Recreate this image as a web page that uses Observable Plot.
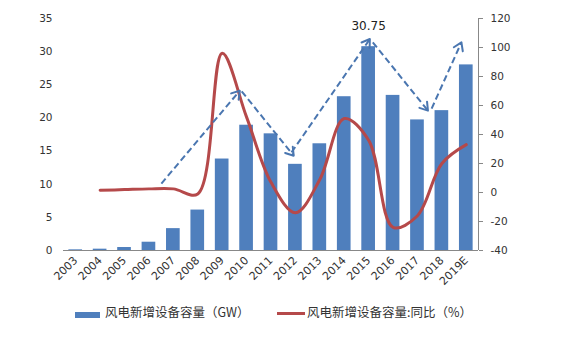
<!DOCTYPE html>
<html><head><meta charset="utf-8">
<script src="https://cdn.jsdelivr.net/npm/d3@7"></script>
<script src="https://cdn.jsdelivr.net/npm/@observablehq/plot@0.6"></script>
<style>
body{margin:0;background:#fff;font-family:"DejaVu Sans",sans-serif;}
#wrap{position:relative;width:563px;height:351px;overflow:hidden;}
.lg{position:absolute;font-family:"Noto Sans CJK SC","DejaVu Sans",sans-serif;font-size:12.5px;color:#333;line-height:1;white-space:nowrap;}
</style></head>
<body><div id="wrap"><div id="chart"></div>
<div class="lg" style="left:75px;top:312px;width:25px;height:6px;background:#4f7fbd"></div>
<div class="lg" style="left:105px;top:306px;">风电新增设备容量（GW）</div>
<div class="lg" style="left:277px;top:312px;width:28px;height:3px;background:#b5494a"></div>
<div class="lg" style="left:307px;top:306px;">风电新增设备容量:同比（%）</div>
</div>
<script>
const years = ["2003","2004","2005","2006","2007","2008","2009","2010","2011","2012","2013","2014","2015","2016","2017","2018","2019E"];
const capacity = [0.1,0.2,0.45,1.25,3.3,6.1,13.8,18.9,17.6,13.0,16.1,23.2,30.75,23.4,19.7,21.1,28.0];
const yoyYears = ["2004","2005","2006","2007","2008","2009","2010","2011","2012","2013","2014","2015","2016","2017","2018","2019E"];
const yoy = [1.5,2,2.5,2.5,-1,96,52,7,-14,9,51,36,-24,-16,20,33];
const leftTicks = [0,5,10,15,20,25,30,35];
const rightTicks = [-40,-20,0,20,40,60,80,100,120];
// trend arrows (x in year index, y in GW)
const arrowX1 = [3.51,6.8,8.84,12.17,14.58];
const arrowY1 = [10.1,24.0,14.8,31.4,21.4];
const arrowX2 = [6.72,8.93,12.05,14.43,15.8];
const arrowY2 = [24.1,14.3,31.9,21.1,31.4];
const peakLabel = "30.75";

const W = 563, H = 300, mL = 63, mR = 85, mT = 18, mB = 50;
const xDomain = [-0.5, 16.5], yDomain = [0, 35];

const toLeft = v => (v + 40) * 35 / 160;
const fromLeft = y => Math.round(y * 160 / 35 - 40);

const bars = years.map((y, i) => ({i, v: capacity[i]}));
const line = yoyYears.map((y, k) => ({i: years.indexOf(y), v: yoy[k]}));
const arrows = arrowX1.map((x, k) => ({x1: x, y1: arrowY1[k], x2: arrowX2[k], y2: arrowY2[k]}));
const peakIdx = capacity.indexOf(Math.max(...capacity));

// screen-space angle of each arrow, via Plot's own scales
const sc = Plot.scale({x: {domain: xDomain, range: [mL, W - mR]}});
const sy = Plot.scale({y: {domain: yDomain, range: [H - mB, mT]}});
arrows.forEach(a => {
  const dx = sc.apply(a.x2) - sc.apply(a.x1);
  const dy = sy.apply(a.y2) - sy.apply(a.y1);
  a.rot = Math.atan2(dx, -dy) * 180 / Math.PI;
});
const headShape = {
  draw(ctx, l) {
    const s = 9, ang = 33 * Math.PI / 180;
    const wx = s * Math.sin(ang), wy = s * Math.cos(ang);
    ctx.moveTo(-wx, -l + wy);
    ctx.lineTo(0, -l);
    ctx.lineTo(wx, -l + wy);
  }
};

const blue = "#4f7fbd", red = "#b5494a", arrowC = "#4a76b0", txt = "#333";

const chart = Plot.plot({
  width: W, height: H,
  marginLeft: mL, marginRight: mR, marginTop: mT, marginBottom: mB,
  style: {fontFamily: "DejaVu Sans, sans-serif", fontSize: "10.5px", color: txt, background: "transparent"},
  x: {type: "linear", domain: xDomain},
  y: {domain: yDomain},
  marks: [
    Plot.rectY(bars, {x1: d => d.i - 0.28, x2: d => d.i + 0.28, y1: 0, y2: "v", fill: blue}),
    Plot.ruleY([0], {stroke: "#888", strokeWidth: 1}),
    Plot.ruleX([16.5], {y1: 0, y2: 35, stroke: "#888", strokeWidth: 1}),
    Plot.axisY(leftTicks, {anchor: "left", tickSize: 0, tickPadding: 11, label: null, fill: txt}),
    Plot.axisY(rightTicks.map(toLeft), {anchor: "right", tickSize: 4, tickPadding: 8, stroke: "#888", label: null, tickFormat: fromLeft, fill: txt}),
    Plot.axisX(d3.range(years.length), {anchor: "bottom", tickSize: 0, tickPadding: 8, tickRotate: -45, tickFormat: i => years[i], label: null, fill: txt, fontSize: 11}),
    Plot.line(line, {x: "i", y: d => toLeft(d.v), curve: "catmull-rom", stroke: red, strokeWidth: 3}),
    Plot.link(arrows, {x1: "x1", y1: "y1", x2: "x2", y2: "y2", stroke: arrowC, strokeWidth: 2, strokeDasharray: "6.5,3.5"}),
    Plot.vector(arrows, {x: "x2", y: "y2", rotate: "rot", length: 10, anchor: "end", shape: headShape, stroke: arrowC, strokeWidth: 2}),
    Plot.text([{i: peakIdx, v: capacity[peakIdx]}], {x: "i", y: "v", text: () => peakLabel, dy: -21, fontSize: 12, fill: "#222"})
  ]
});
document.getElementById("chart").append(chart);
</script>
</body></html>
